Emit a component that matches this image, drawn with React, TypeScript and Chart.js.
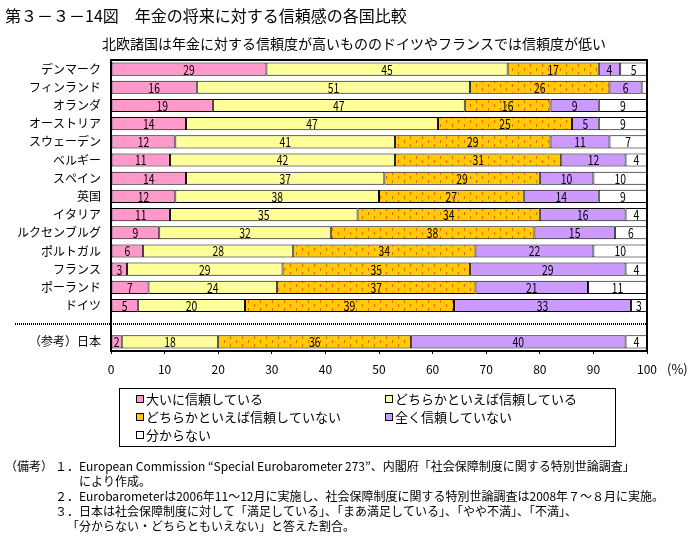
import React, { useEffect, useRef } from 'react';
import { Chart, registerables } from 'chart.js';

Chart.register(...registerables);

const categories = [
  'デンマーク', 'フィンランド', 'オランダ', 'オーストリア', 'スウェーデン', 'ベルギー', 'スペイン', '英国',
  'イタリア', 'ルクセンブルグ', 'ポルトガル', 'フランス', 'ポーランド', 'ドイツ', '', '（参考）日本',
];
const seriesNames = [
  '大いに信頼している',
  'どちらかといえば信頼している',
  'どちらかといえば信頼していない',
  '全く信頼していない',
  '分からない',
];
const trustGreatly = [29, 16, 19, 14, 12, 11, 14, 12, 11, 9, 6, 3, 7, 5, null, 2];
const trustSomewhat = [45, 51, 47, 47, 41, 42, 37, 38, 35, 32, 28, 29, 24, 20, null, 18];
const distrustSomewhat = [17, 26, 16, 25, 29, 31, 29, 27, 34, 38, 34, 35, 37, 39, null, 36];
const distrustTotally = [4, 6, 9, 5, 11, 12, 10, 14, 16, 15, 22, 29, 21, 33, null, 40];
const dontKnow = [5, 1, 9, 9, 7, 4, 10, 9, 4, 6, 10, 4, 11, 3, null, 4];
const xTickValues = [0, 10, 20, 30, 40, 50, 60, 70, 80, 90, 100];

const titleText = '第３－３－14図　年金の将来に対する信頼感の各国比較';
const subtitleText = '北欧諸国は年金に対する信頼度が高いもののドイツやフランスでは信頼度が低い';
const notes = [
  { x: 5, text: '（備考）' },
  { x: 55, text: '１．European Commission “Special Eurobarometer 273”、内閣府「社会保障制度に関する特別世論調査」' },
  { x: 79, text: 'により作成。' },
  { x: 55, text: '２．Eurobarometerは2006年11～12月に実施し、社会保障制度に関する特別世論調査は2008年７～８月に実施。' },
  { x: 55, text: '３．日本は社会保障制度に対して「満足している」、「まあ満足している」、「やや不満」、「不満」、' },
  { x: 67, text: '「分からない・どちらともいえない」と答えた割合。' },
];
const noteRows = [0, 0, 1, 2, 3, 4];

const JP = '"Noto Sans CJK JP"';
const NARROW = '"Liberation Sans Narrow", "Noto Sans CJK JP"';

const PINK = '#FF99CC';
const YELLOW = '#FFFF99';
const PURPLE = '#CC99FF';
const WHITE = '#FFFFFF';

function makePattern(): CanvasPattern | string {
  const c = document.createElement('canvas');
  c.width = 12;
  c.height = 8;
  const g = c.getContext('2d');
  if (!g) return '#FFCC00';
  g.fillStyle = '#FFCC00';
  g.fillRect(0, 0, 12, 8);
  g.fillStyle = '#F06418';
  g.fillRect(2, 0, 1, 3);
  g.fillRect(8, 4, 1, 3);
  return g.createPattern(c, 'repeat') || '#FFCC00';
}

export default function App() {
  const ref = useRef<HTMLCanvasElement | null>(null);

  useEffect(() => {
    const canvas = ref.current;
    if (!canvas) return;
    const orange = makePattern();
    const fills: any[] = [PINK, YELLOW, orange, PURPLE, WHITE];
    const values = [trustGreatly, trustSomewhat, distrustSomewhat, distrustTotally, dontKnow];

    const decor = {
      id: 'decor',
      beforeDraw(chart: any) {
        const ctx = chart.ctx;
        ctx.save();
        ctx.fillStyle = '#fff';
        ctx.fillRect(0, 0, chart.width, chart.height);
        ctx.restore();
      },
      afterDatasetsDraw(chart: any) {
        const ctx = chart.ctx;
        const sx = 0.8;
        ctx.save();
        ctx.font = `13px ${JP}`;
        ctx.fillStyle = '#000';
        ctx.textAlign = 'center';
        ctx.textBaseline = 'middle';
        chart.data.datasets.forEach((ds: any, di: number) => {
          const meta = chart.getDatasetMeta(di);
          meta.data.forEach((el: any, i: number) => {
            const v = ds.data[i];
            if (v == null || v < 2) return;
            const p = el.getProps(['x', 'base', 'y'], true);
            const cx = (p.x + p.base) / 2;
            ctx.save();
            ctx.translate(cx, p.y + 0.5);
            ctx.scale(sx, 1);
            ctx.fillText(String(v), 0, 0);
            ctx.restore();
          });
        });
        ctx.restore();
      },
      afterDraw(chart: any) {
        const ctx = chart.ctx;
        const a = chart.chartArea;
        const yScale = chart.scales.y;
        ctx.save();
        // plot frame
        ctx.strokeStyle = '#000';
        ctx.lineWidth = 2;
        ctx.strokeRect(a.left, a.top, a.right - a.left, a.bottom - a.top);
        // dotted separator
        const yd = Math.round(yScale.getPixelForValue(14));
        ctx.lineWidth = 2;
        ctx.setLineDash([1, 1]);
        ctx.beginPath();
        ctx.moveTo(15, yd);
        ctx.lineTo(a.right, yd);
        ctx.stroke();
        ctx.setLineDash([]);
        // titles
        ctx.fillStyle = '#000';
        ctx.textBaseline = 'middle';
        ctx.textAlign = 'left';
        ctx.font = `16px ${JP}`;
        ctx.fillText(titleText, 5, 16);
        ctx.textAlign = 'center';
        ctx.font = `14px ${JP}`;
        ctx.fillText(subtitleText, 354, 44);
        // unit
        ctx.textAlign = 'left';
        ctx.font = `13px ${JP}`;
        ctx.fillText('(%)', 667, 369);
        // legend
        ctx.lineWidth = 1;
        ctx.strokeRect(119.5, 388.5, 496, 58);
        const pos = [
          [136, 399], [385, 399],
          [136, 417], [385, 417],
          [136, 435],
        ];
        ctx.font = `13px ${JP}`;
        seriesNames.forEach((name, i) => {
          const [x, y] = pos[i];
          ctx.fillStyle = fills[i];
          ctx.fillRect(x, y - 4, 8, 8);
          ctx.strokeStyle = '#000';
          ctx.strokeRect(x + 0.5, y - 3.5, 7, 7);
          ctx.fillStyle = '#000';
          ctx.textAlign = 'left';
          ctx.fillText(name, x + 10, y);
        });
        // notes
        ctx.font = `12px ${NARROW}`;
        notes.forEach((n, i) => {
          ctx.fillText(n.text, n.x, 466 + noteRows[i] * 15);
        });
        ctx.restore();
      },
    };

    const chart = new Chart(canvas, {
      type: 'bar',
      data: {
        labels: categories,
        datasets: seriesNames.map((name, i) => ({
          label: name,
          data: values[i],
          backgroundColor: fills[i],
          borderColor: '#000',
          borderWidth: 1,
          borderSkipped: false,
          barPercentage: 0.72,
          categoryPercentage: 1,
        })),
      },
      options: {
        responsive: false,
        devicePixelRatio: 1,
        animation: false,
        indexAxis: 'y',
        layout: { padding: { left: 0, top: 60, right: 51, bottom: 155 } },
        plugins: {
          legend: { display: false },
          tooltip: { enabled: false },
          title: { display: false },
        },
        scales: {
          x: {
            type: 'linear',
            stacked: true,
            min: 0,
            max: 100,
            afterBuildTicks: (s: any) => {
              s.ticks = xTickValues.map((v) => ({ value: v }));
            },
            ticks: {
              color: '#000',
              font: { family: NARROW, size: 12 },
              padding: 8,
              maxRotation: 0,
              autoSkip: false,
            },
            grid: { display: true, drawOnChartArea: false, drawTicks: true, tickLength: 3, color: '#000' },
            border: { display: false },
            afterFit: (s: any) => {
              s.height = 30;
            },
          },
          y: {
            type: 'category',
            stacked: true,
            ticks: {
              color: '#000',
              font: { family: JP, size: 12 },
              padding: 10,
              autoSkip: false,
            },
            grid: { display: false, drawTicks: false },
            border: { display: false },
            afterFit: (s: any) => {
              s.width = 111;
            },
          },
        },
      },
      plugins: [decor],
    } as any);

    return () => chart.destroy();
  }, []);

  return (
    <div style={{ position: 'fixed', left: 0, top: 0, width: 698, height: 536, background: '#fff' }}>
      <canvas ref={ref} width={698} height={536} style={{ display: 'block' }} />
    </div>
  );
}
